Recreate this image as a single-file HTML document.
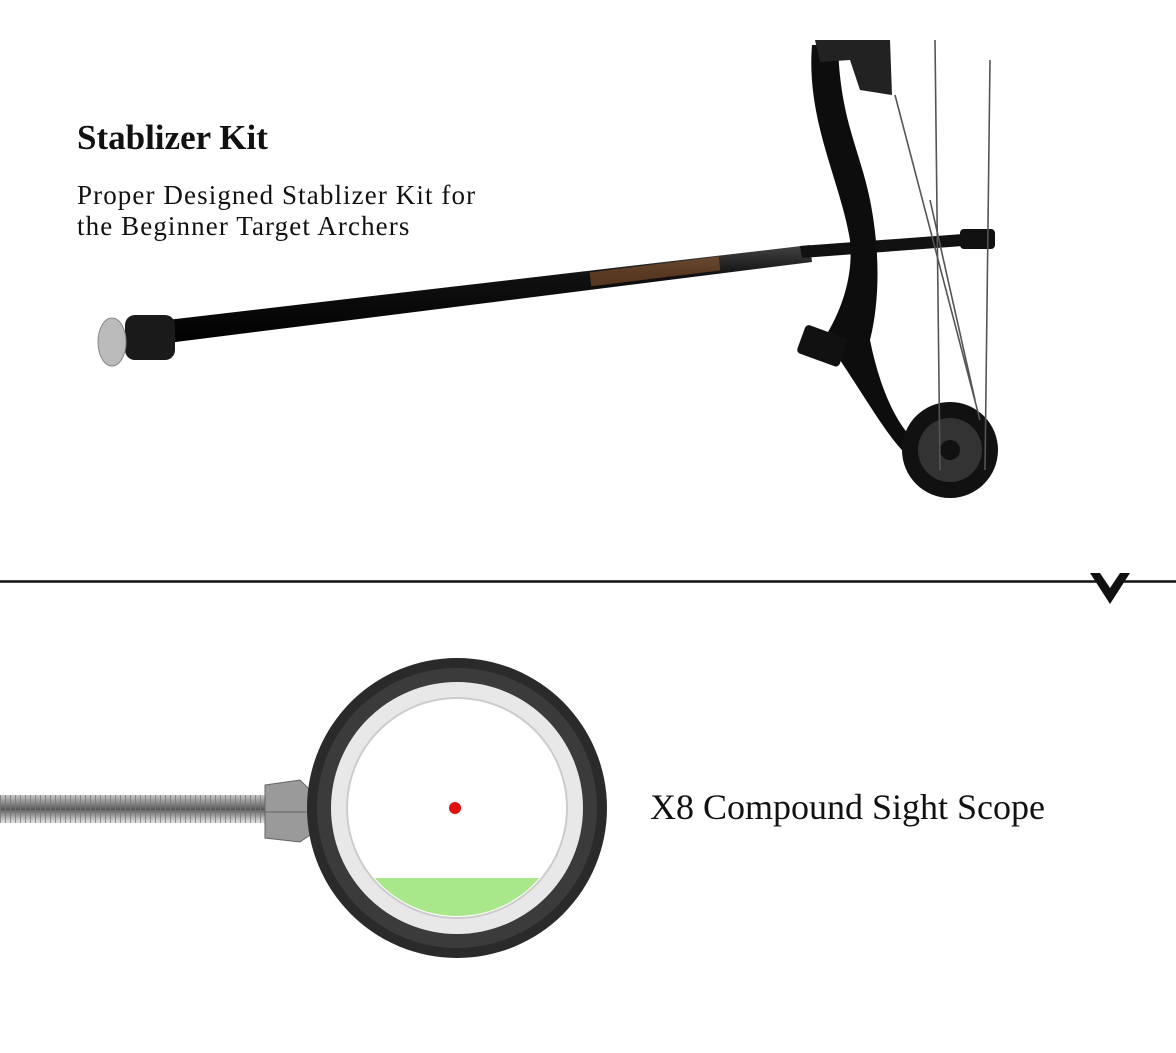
<!DOCTYPE html>
<html><head><meta charset="utf-8"><style>
html,body{margin:0;padding:0;background:#fff;}
body{width:1176px;height:1053px;position:relative;overflow:hidden;font-family:"Liberation Serif",serif;}
.t{position:absolute;color:#111;white-space:nowrap;}
</style></head><body>
<svg width="1176" height="1053" style="position:absolute;left:0;top:0">
<defs>
<linearGradient id="thr" x1="0" y1="0" x2="0" y2="1"><stop offset="0" stop-color="#666"/><stop offset=".4" stop-color="#ddd"/><stop offset="1" stop-color="#555"/></linearGradient>
<linearGradient id="rod" x1="0" y1="0" x2="0" y2="1"><stop offset="0" stop-color="#444"/><stop offset=".3" stop-color="#111"/><stop offset="1" stop-color="#000"/></linearGradient>
<pattern id="th" width="5" height="30" patternUnits="userSpaceOnUse"><rect width="5" height="30" fill="url(#thr)"/><line x1="0" y1="0" x2="0" y2="30" stroke="#777" stroke-width="1.5"/></pattern>
</defs>
<polygon points="150,322 810,245 812,262 152,345" fill="url(#rod)"/>
<polygon points="800,246 990,232 990,244 802,258" fill="#111"/>
<rect x="960" y="229" width="35" height="20" rx="4" fill="#111"/>
<rect x="125" y="315" width="50" height="45" rx="10" fill="#1a1a1a"/>
<ellipse cx="112" cy="342" rx="14" ry="24" fill="#bbb" stroke="#888"/>
<rect x="590" y="265" width="130" height="14" fill="#a0602f" opacity=".5" transform="rotate(-7 650 272)"/>
<path d="M812,45 C806,120 840,180 850,240 C855,290 830,330 820,345 L840,360 C880,420 900,460 930,470 L935,455 C900,440 880,390 870,340 C880,300 880,250 870,200 C860,150 840,120 838,45 Z" fill="#0d0d0d"/>
<path d="M815,40 L890,40 L892,95 L860,90 L850,60 L820,62 Z" fill="#222"/>
<rect x="800" y="330" width="45" height="30" rx="4" fill="#111" transform="rotate(20 820 345)"/>
<circle cx="950" cy="450" r="48" fill="#111"/>
<circle cx="950" cy="450" r="32" fill="#333"/>
<circle cx="950" cy="450" r="10" fill="#111"/>
<g stroke="#555" stroke-width="1.6" fill="none">
<line x1="935" y1="40" x2="940" y2="470"/>
<line x1="990" y1="60" x2="985" y2="470"/>
<line x1="895" y1="95" x2="980" y2="420"/>
<line x1="930" y1="200" x2="975" y2="400"/>
</g>
<line x1="0" y1="581.5" x2="1176" y2="581.5" stroke="#111" stroke-width="2.5"/>
<polygon points="1090,573 1130,573 1110,604" fill="#111"/>
<polygon points="1100,573 1120,573 1110,588" fill="#fff"/>
<rect x="0" y="795" width="270" height="28" fill="url(#th)"/>
<polygon points="265,785 300,780 310,790 310,835 300,842 265,838" fill="#9a9a9a" stroke="#666"/>
<line x1="265" y1="812" x2="310" y2="812" stroke="#666"/>
<circle cx="457" cy="808" r="150" fill="#2a2a2a"/>
<circle cx="457" cy="808" r="140" fill="#3b3b3b"/>
<circle cx="457" cy="808" r="126" fill="#e8e8e8"/>
<circle cx="457" cy="808" r="110" fill="#fff" stroke="#ccc" stroke-width="2"/>
<clipPath id="c"><circle cx="457" cy="808" r="108"/></clipPath>
<rect x="340" y="878" width="240" height="50" fill="#a8e88a" clip-path="url(#c)"/>
<circle cx="455" cy="808" r="6" fill="#e01010"/>
</svg>
<div class="t" style="left:77px;top:118px;font-size:35px;font-weight:bold;">Stablizer Kit</div>
<div class="t" style="left:77px;top:180px;font-size:27px;line-height:31px;letter-spacing:1.1px;">Proper Designed Stablizer Kit for<br>the Beginner Target Archers</div>
<div class="t" style="left:650px;top:786px;font-size:36px;">X8 Compound Sight Scope</div>
</body></html>
